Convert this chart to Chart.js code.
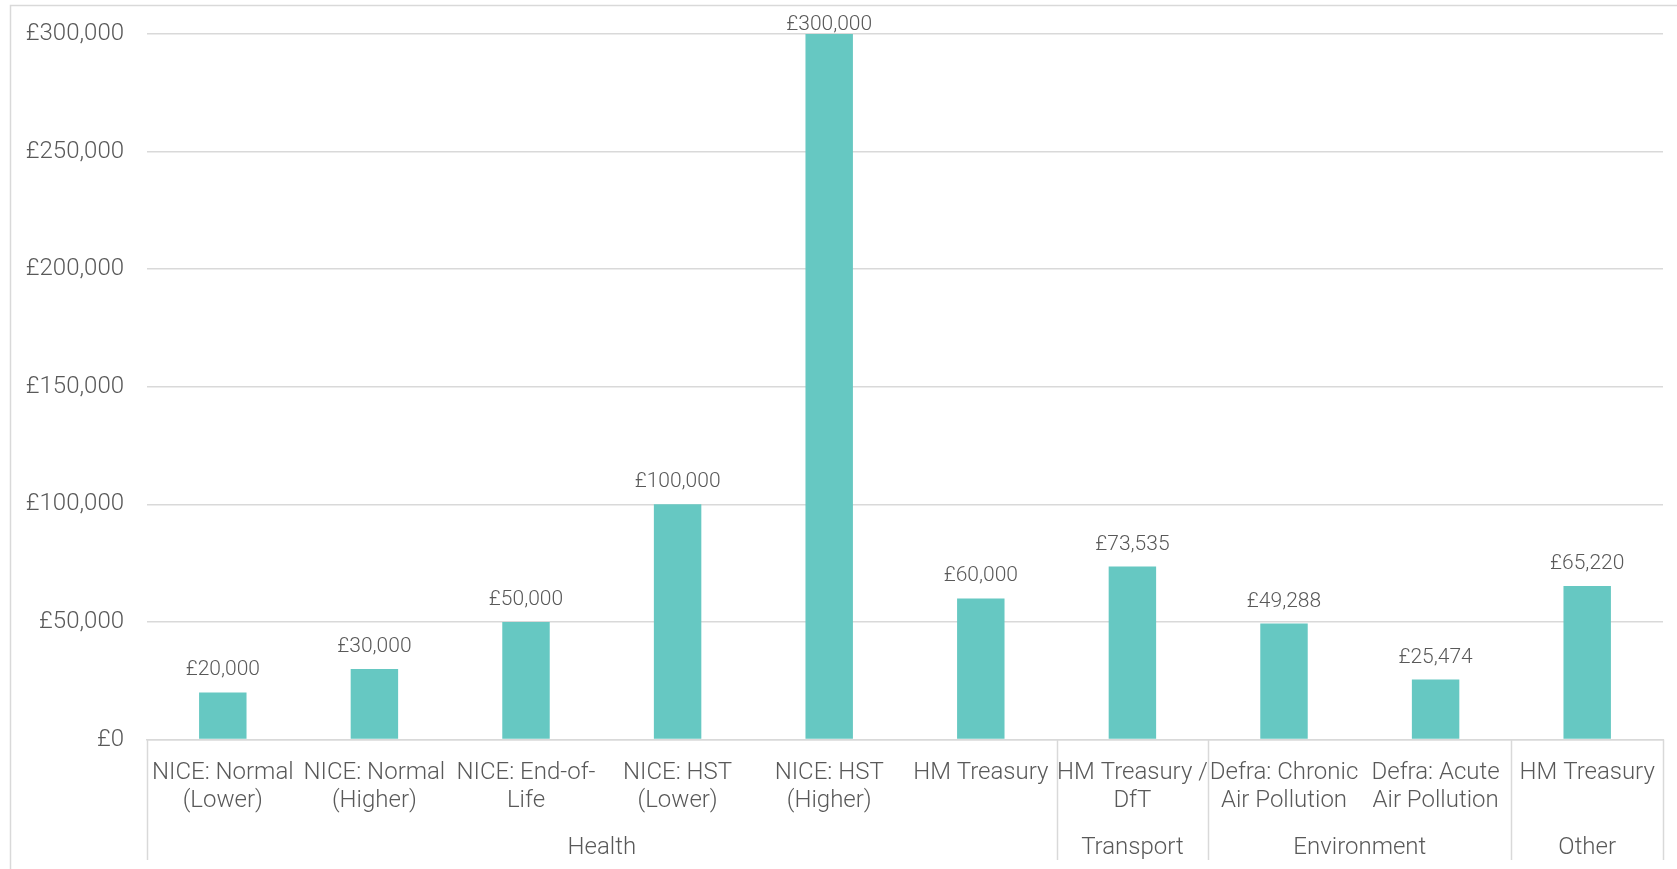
<!DOCTYPE html>
<html>
<head>
<meta charset="utf-8">
<script src="https://cdn.jsdelivr.net/npm/chart.js@4/dist/chart.umd.min.js"></script>
<style>
  html, body { margin: 0; padding: 0; background: #ffffff; }
  #wrap { width: 1677px; height: 869px; position: relative; }
</style>
</head>
<body>
<div id="wrap"><canvas id="c" width="1677" height="869"></canvas></div>
<script>
const categories = [
  ["NICE: Normal", "(Lower)"],
  ["NICE: Normal", "(Higher)"],
  ["NICE: End-of-", "Life"],
  ["NICE: HST", "(Lower)"],
  ["NICE: HST", "(Higher)"],
  ["HM Treasury"],
  ["HM Treasury /", "DfT"],
  ["Defra: Chronic", "Air Pollution"],
  ["Defra: Acute", "Air Pollution"],
  ["HM Treasury"]
];
const values = [20000, 30000, 50000, 100000, 300000, 60000, 73535, 49288, 25474, 65220];
const groupNames = ["Health", "Transport", "Environment", "Other"];
const groupSpans = [6, 1, 2, 1];
const yTicks = [0, 50000, 100000, 150000, 200000, 250000, 300000];

const FONT = "Roboto, 'Liberation Sans', sans-serif";
const TEXT = "#595959";
const LINE = "#d9d9d9";

function money(v) { return "£" + Number(v).toLocaleString("en-GB"); }

const framePlugin = {
  id: "frame",
  beforeDraw(chart) {
    const ctx = chart.ctx;
    ctx.save();
    ctx.strokeStyle = LINE;
    ctx.lineWidth = 1.5;
    ctx.beginPath();
    ctx.moveTo(10.5, 869);
    ctx.lineTo(10.5, 5.5);
    ctx.lineTo(1677, 5.5);
    ctx.stroke();
    ctx.restore();
  }
};

const groupPlugin = {
  id: "groups",
  afterDraw(chart) {
    const ctx = chart.ctx;
    const xs = chart.scales.x;
    const area = chart.chartArea;
    const n = categories.length;
    function boundary(i) {
      if (i <= 0) return xs.left;
      if (i >= n) return xs.right;
      return (xs.getPixelForValue(i - 1) + xs.getPixelForValue(i)) / 2;
    }
    ctx.save();
    ctx.strokeStyle = LINE;
    ctx.lineWidth = 1.5;
    let start = 0;
    const bounds = [0];
    groupSpans.forEach(s => { start += s; bounds.push(start); });
    bounds.forEach(b => {
      const x = Math.round(boundary(b)) + 0.5;
      ctx.beginPath();
      ctx.moveTo(x, area.bottom);
      ctx.lineTo(x, 860);
      ctx.stroke();
    });
    ctx.fillStyle = TEXT;
    ctx.font = "300 24px " + FONT;
    ctx.textAlign = "center";
    ctx.textBaseline = "alphabetic";
    for (let g = 0; g < groupNames.length; g++) {
      const x0 = boundary(bounds[g]);
      const x1 = boundary(bounds[g + 1]);
      ctx.fillText(groupNames[g], (x0 + x1) / 2, 853.5);
    }
    ctx.restore();
  }
};

const labelPlugin = {
  id: "barlabels",
  afterDatasetsDraw(chart) {
    const ctx = chart.ctx;
    const meta = chart.getDatasetMeta(0);
    ctx.save();
    ctx.fillStyle = TEXT;
    ctx.font = "300 21px " + FONT;
    ctx.textAlign = "center";
    ctx.textBaseline = "alphabetic";
    meta.data.forEach((el, i) => {
      const y = Math.max(el.y - 17, 29.5);
      ctx.fillText(money(values[i]), el.x, y);
    });
    ctx.restore();
  }
};

new Chart(document.getElementById("c"), {
  type: "bar",
  data: {
    labels: categories,
    datasets: [{
      data: values,
      backgroundColor: "#66c8c2",
      borderWidth: 0,
      barPercentage: 0.313,
      categoryPercentage: 1.0
    }]
  },
  options: {
    responsive: false,
    animation: false,
    layout: { padding: { top: 34, right: 14, left: 0, bottom: 0 } },
    plugins: { legend: { display: false }, tooltip: { enabled: false } },
    scales: {
      x: {
        grid: { display: false, drawTicks: false },
        border: { display: true, color: LINE, width: 1.5 },
        ticks: {
          color: TEXT,
          font: { family: FONT, size: 24, weight: 300, lineHeight: 1.18 },
          padding: 19.5,
          maxRotation: 0,
          autoSkip: false
        },
        afterFit(scale) { scale.height = 869 - 739.5; }
      },
      y: {
        min: 0,
        max: 300000,
        afterBuildTicks(scale) { scale.ticks = yTicks.map(v => ({ value: v })); },
        grid: { color: LINE, lineWidth: 1.5, drawTicks: false },
        border: { display: false },
        ticks: {
          color: TEXT,
          font: { family: FONT, size: 24, weight: 300 },
          padding: 23,
          callback: (v) => money(v)
        },
        afterFit(scale) {
          scale.width = 147;
          scale.paddingTop = 0;
          scale.paddingBottom = 0;
        }
      }
    }
  },
  plugins: [framePlugin, groupPlugin, labelPlugin]
});
</script>
</body>
</html>
